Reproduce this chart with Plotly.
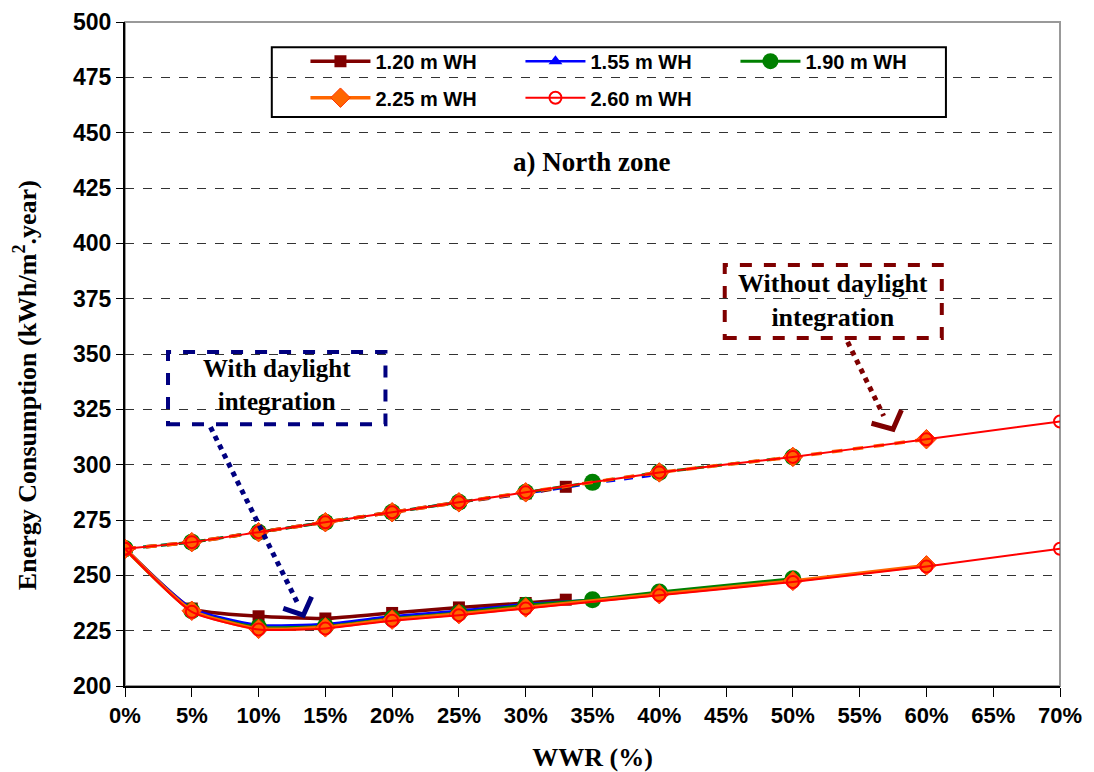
import plotly.graph_objects as go

# ---------------- data ----------------
series_names = ["1.20 m WH", "1.55 m WH", "1.90 m WH", "2.25 m WH", "2.60 m WH"]

x_120 = [0, 5, 10, 15, 20, 25, 30, 33]
x_155 = [0, 5, 10, 15, 20, 25, 30, 35, 40]
x_190 = [0, 5, 10, 15, 20, 25, 30, 35, 40, 50]
x_225 = [0, 5, 10, 15, 20, 25, 30, 40, 50, 60]
x_260 = [0, 5, 10, 15, 20, 25, 30, 40, 50, 60, 70]

# Without daylight integration (upper curves)
up_120 = [262, 265, 269.5, 274, 278.5, 283, 287, 290]
up_155 = [262, 265, 269.5, 274, 278.5, 283, 287, 291.5, 295.5]
up_190 = [262, 265, 269.5, 274, 278.5, 283, 287.5, 292, 296.5, 303.5]
up_225 = [262, 265, 269.5, 274, 278.5, 283, 287.5, 296.5, 303.5, 311.5]
up_260 = [262, 265, 269.5, 274, 278.5, 283, 287.5, 296.5, 303.5, 311.5, 319.5]

# With daylight integration (lower curves)
lo_120 = [262, 235, 231.5, 230.5, 233, 235.5, 237.5, 239]
lo_155 = [262, 235, 227.5, 228, 231.5, 234, 237, 239, 242]
lo_190 = [262, 234, 226.5, 227, 230.5, 233, 236.5, 239, 242.5, 248.5]
lo_225 = [262, 234, 225.8, 226.5, 230, 232.5, 235.5, 241.5, 247.5, 254.5]
lo_260 = [262, 233.5, 225.5, 226, 229.5, 232, 235, 241, 247, 254, 262]

y_ticks = [200, 225, 250, 275, 300, 325, 350, 375, 400, 425, 450, 475, 500]
x_ticks = [0, 5, 10, 15, 20, 25, 30, 35, 40, 45, 50, 55, 60, 65, 70]
x_tick_labels = [f"{v}%" for v in x_ticks]

# ---------------- styles ----------------
styles = [
    dict(color="#7F0000", width=3.5, symbol="square", msize=12, mfill="#7F0000", mline="#7F0000", mlw=0, legend="legend"),
    dict(color="#0000FF", width=2.5, symbol="triangle-up", msize=12, mfill="#0000FF", mline="#0000FF", mlw=0, legend="legend"),
    dict(color="#008000", width=3, symbol="circle", msize=17, mfill="#008000", mline="#008000", mlw=0, legend="legend"),
    dict(color="#FF6600", width=3.5, symbol="diamond", msize=15, mfill="#FF6600", mline="#FF3300", mlw=1, legend="legend2"),
    dict(color="#FF0000", width=2, symbol="circle-open", msize=12, mfill="#FF0000", mline="#FF0000", mlw=2, legend="legend2"),
]
xs = [x_120, x_155, x_190, x_225, x_260]
ups = [up_120, up_155, up_190, up_225, up_260]
los = [lo_120, lo_155, lo_190, lo_225, lo_260]

fig = go.Figure()
for i, name in enumerate(series_names):
    s = styles[i]
    for kind, ys in (("up", ups[i]), ("lo", los[i])):
        dash = "dash" if (kind == "up" and i < 4) else "solid"
        fig.add_trace(go.Scatter(
            x=xs[i], y=ys, mode="lines+markers", name=name,
            legend=s["legend"], legendgroup=name, showlegend=(kind == "lo"),
            line=dict(color=s["color"], width=s["width"], dash=dash,
                      shape="spline", smoothing=0.5),
            marker=dict(symbol=s["symbol"], size=s["msize"], color=s["mfill"],
                        line=dict(color=s["mline"], width=s["mlw"])),
        ))

# ---------------- annotation boxes & arrows ----------------
navy = "#000080"
dred = "#7F0000"
shapes = [
    # legend frame
    dict(type="rect", xref="paper", yref="paper", x0=0.157, x1=0.878, y0=0.857, y1=0.962,
         line=dict(color="black", width=2), fillcolor="rgba(0,0,0,0)", layer="above"),
    # plot frame (top/right grey)
    dict(type="rect", xref="paper", yref="paper", x0=0, x1=1, y0=0, y1=1,
         line=dict(color="#999999", width=2), layer="below"),
    # boxes
    dict(type="rect", xref="x", yref="y", x0=3.22, x1=19.5, y0=318.3, y1=350.9,
         line=dict(color=navy, width=4, dash="dash")),
    dict(type="rect", xref="x", yref="y", x0=44.9, x1=61.15, y0=357.2, y1=390.2,
         line=dict(color=dred, width=4, dash="dash")),
    # dotted arrow shafts
    dict(type="line", xref="x", yref="y", x0=6.4, y0=317, x1=13.0, y1=236.5,
         line=dict(color=navy, width=5, dash="dot")),
    dict(type="line", xref="x", yref="y", x0=54.1, y0=355.5, x1=56.8, y1=322,
         line=dict(color=dred, width=5, dash="dot")),
    # chevron heads
    dict(type="path", xref="x", yref="y", path="M 11.85,235.1 L 13.35,232.0 L 13.97,240.3",
         line=dict(color=navy, width=5)),
    dict(type="path", xref="x", yref="y", path="M 55.89,318.7 L 57.5,316.0 L 58.13,324.7",
         line=dict(color=dred, width=5)),
]

serif = "Liberation Serif"
annotations = [
    dict(x=34.9, y=436.8, xref="x", yref="y", text="<b>a) North zone</b>", showarrow=False,
         font=dict(family=serif, size=27, color="black")),
    dict(x=11.4, y=336.0, xref="x", yref="y", text="<b>With daylight<br>integration</b>",
         showarrow=False, font=dict(family=serif, size=25, color="black")),
    dict(x=53.0, y=374.2, xref="x", yref="y", text="<b>Without daylight<br>integration</b>",
         showarrow=False, font=dict(family=serif, size=26, color="black")),
    # y-axis title (centred on the full chart height, as in the reference)
    dict(x=-0.107, y=0.453, xref="paper", yref="paper", textangle=-90,
         text="<b>Energy Consumption (kWh/m<sup>2</sup>.year)</b>", showarrow=False,
         xanchor="center", yanchor="middle",
         font=dict(family=serif, size=26, color="black")),
]

legend_common = dict(
    orientation="h", xanchor="left", yanchor="middle",
    bgcolor="rgba(0,0,0,0)", borderwidth=0, itemwidth=60, entrywidth=140,
    font=dict(family="Liberation Sans", size=20, color="black", weight="bold"),
    itemclick=False, itemdoubleclick=False,
)

fig.update_layout(
    width=1094, height=772,
    margin=dict(l=125, r=34, t=22, b=86),
    plot_bgcolor="white", paper_bgcolor="white",
    showlegend=True,
    legend=dict(x=0.193, y=0.941, **legend_common),
    legend2=dict(x=0.193, y=0.886, **legend_common),
    shapes=shapes,
    annotations=annotations,
    xaxis=dict(
        range=[0, 70], tickvals=x_ticks, ticktext=x_tick_labels,
        showgrid=False, zeroline=False, automargin=False,
        showline=True, linecolor="black", linewidth=2,
        ticks="outside", ticklen=9, tickcolor="black", tickwidth=1,
        tickfont=dict(family="Liberation Sans", size=22, color="black", weight="bold"),
        title=dict(text="<b>WWR (%)</b>", font=dict(family=serif, size=26, color="black"),
                   standoff=22),
    ),
    yaxis=dict(
        range=[200, 500], tickvals=y_ticks,
        showgrid=True, gridcolor="#333333", gridwidth=1, griddash="dash",
        zeroline=False, automargin=False,
        showline=True, linecolor="black", linewidth=2,
        ticks="outside", ticklen=7, tickcolor="black", tickwidth=1,
        tickfont=dict(family="Liberation Sans", size=23, color="black", weight="bold"),
    ),
)

fig.write_html("out.html")
